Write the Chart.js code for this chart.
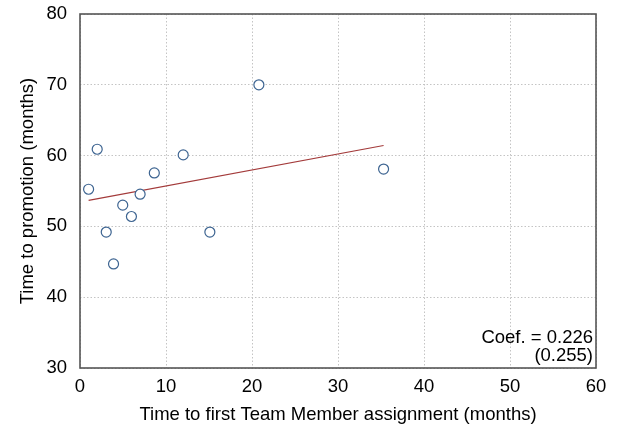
<!DOCTYPE html>
<html>
<head>
<meta charset="utf-8">
<script src="https://cdn.jsdelivr.net/npm/chart.js@4/dist/chart.umd.min.js"></script>
<style>
  html, body { margin: 0; padding: 0; background: #ffffff; }
  #wrap { width: 618px; height: 430px; }
</style>
</head>
<body>
<div id="wrap"><canvas id="c" width="618" height="430"></canvas></div>
<script>
// Months until first Team Member assignment vs. months until promotion
const assignMonths = [1.0, 2.0, 3.05, 3.9, 4.97, 5.98, 6.99, 8.64, 12.0, 15.1, 20.8, 35.3];
const promoMonths  = [55.25, 60.9, 49.2, 44.7, 53.0, 51.4, 54.55, 57.55, 60.1, 49.2, 70.0, 58.1];

// Fitted line: slope (coefficient), its standard error, and intercept
const fitCoef = 0.226;
const fitSE = 0.255;
const fitIntercept = 53.45;

const xTicks = [0, 10, 20, 30, 40, 50, 60];
const yTicks = [30, 40, 50, 60, 70, 80];

const FONT = "'Liberation Sans', Arial, sans-serif";
const FS = 18.5;

const points = assignMonths.map((x, i) => ({ x: x, y: promoMonths[i] }));
const xMin = Math.min(...assignMonths);
const xMax = Math.max(...assignMonths);
const fitLine = [xMin, xMax].map(x => ({ x: x, y: fitIntercept + fitCoef * x }));

// Plot frame drawn around the chart area
const framePlugin = {
  id: 'frame',
  afterDatasetsDraw(chart) {
    const { ctx, chartArea: a } = chart;
    ctx.save();
    ctx.strokeStyle = '#555555';
    ctx.lineWidth = 1.6;
    ctx.strokeRect(a.left, a.top, a.right - a.left, a.bottom - a.top);
    ctx.restore();
  }
};

// Coefficient annotation in the lower-right corner
const coefPlugin = {
  id: 'coefText',
  afterDraw(chart) {
    const { ctx, chartArea: a } = chart;
    ctx.save();
    ctx.fillStyle = '#000000';
    ctx.font = FS + 'px ' + FONT;
    ctx.textAlign = 'right';
    ctx.textBaseline = 'middle';
    ctx.fillText('Coef. = ' + fitCoef.toFixed(3), a.right - 3, a.bottom - 30);
    ctx.fillText('(' + fitSE.toFixed(3) + ')', a.right - 3, a.bottom - 12);
    ctx.restore();
  }
};

new Chart(document.getElementById('c'), {
  type: 'scatter',
  data: {
    datasets: [
      {
        type: 'line',
        data: fitLine,
        borderColor: '#a33a3a',
        borderWidth: 1.2,
        pointRadius: 0,
        fill: false,
        order: 2
      },
      {
        type: 'scatter',
        data: points,
        pointRadius: 5,
        pointBorderWidth: 1.2,
        pointBorderColor: '#3d6491',
        pointBackgroundColor: '#ffffff',
        order: 1
      }
    ]
  },
  options: {
    responsive: false,
    animation: false,
    devicePixelRatio: 1,
    layout: { padding: { left: 10, right: 22, top: 14, bottom: 4 } },
    plugins: {
      legend: { display: false },
      tooltip: { enabled: false }
    },
    scales: {
      x: {
        type: 'linear',
        min: 0,
        max: 60,
        afterBuildTicks(scale) { scale.ticks = xTicks.map(v => ({ value: v })); },
        afterFit(scale) {
          scale.height = 58;
          scale.paddingLeft = 0;
          scale.paddingRight = 0;
        },
        ticks: {
          color: '#000000',
          font: { family: FONT, size: FS },
          padding: 8,
          maxRotation: 0
        },
        grid: {
          color: '#c4c4c4',
          lineWidth: 1,
          drawTicks: false
        },
        border: { display: false, dash: [1.5, 2] },
        title: {
          display: true,
          text: 'Time to first Team Member assignment (months)',
          color: '#000000',
          font: { family: FONT, size: FS },
          padding: { top: 2, bottom: 0 }
        }
      },
      y: {
        type: 'linear',
        min: 30,
        max: 80,
        afterBuildTicks(scale) { scale.ticks = yTicks.map(v => ({ value: v })); },
        afterFit(scale) {
          scale.width = 70;
          scale.paddingTop = 0;
          scale.paddingBottom = 0;
        },
        ticks: {
          color: '#000000',
          font: { family: FONT, size: FS },
          padding: 13
        },
        grid: {
          color: '#c4c4c4',
          lineWidth: 1,
          drawTicks: false
        },
        border: { display: false, dash: [1.5, 2] },
        title: {
          display: true,
          text: 'Time to promotion (months)',
          color: '#000000',
          font: { family: FONT, size: FS },
          padding: { top: 7, bottom: 4 }
        }
      }
    }
  },
  plugins: [framePlugin, coefPlugin]
});
</script>
</body>
</html>
